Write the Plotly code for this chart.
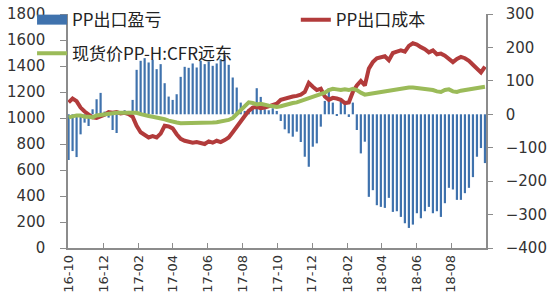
import pandas as pd
import plotly.graph_objects as go

# weekly observations, 2016-10 .. 2018-09
dates = pd.date_range("2016-10-01", periods=105, freq="7D")

profit = [  # PP出口盈亏 (right axis)
    -137, -110, -128, -60, -25, -35, 15, 45, 64, 8,
    -10, -47, -56, 8, 12, 10, 43, 133, 160, 168,
    155, 163, 135, 150, 93, 53, 43, 60, 112, 142,
    139, 152, 140, 160, 150, 158, 145, 152, 165, 177,
    148, 110, 80, 35, 10, 15, 25, 78, 52, 15,
    12, 18, 10, -20, -45, -57, -67, -52, -83, -127,
    -157, -97, -87, -37, 40, 78, 35, -5, 40, 30,
    -8, 35, -47, -117, -82, -247, -227, -272, -277, -280,
    -250, -292, -290, -307, -326, -340, -330, -296, -311, -290,
    -277, -296, -290, -307, -266, -220, -225, -256, -256, -236,
    -220, -188, -127, -101, -146,
]

cost = [  # PP出口成本 (left axis)
    1120, 1150, 1130, 1080, 1050, 1025, 1005, 1000, 1010, 1025,
    1045, 1040, 1045, 1035, 1040, 1030, 1010, 940, 890, 870,
    850, 860, 850, 880, 940, 935, 920, 875, 840, 825,
    815, 810, 815, 805, 800, 820, 810, 825, 815, 830,
    850, 890, 935, 980, 1015, 1055, 1080, 1085, 1075, 1080,
    1090, 1100, 1110, 1140, 1150, 1160, 1165, 1170, 1180, 1200,
    1270, 1240, 1215, 1225, 1165, 1140, 1155, 1150, 1140, 1115,
    1120, 1200, 1250, 1285, 1250, 1380, 1430, 1460, 1470, 1475,
    1445, 1500, 1510, 1520, 1510, 1555, 1575, 1565, 1545, 1530,
    1505, 1520, 1490, 1495, 1480, 1455, 1430, 1455, 1470, 1460,
    1440, 1410, 1375, 1350, 1395,
]

spot = [  # 现货价PP-H:CFR远东 (left axis)
    1005, 1015, 1020, 1020, 1010, 1010, 1005, 1020, 1025, 1030,
    1035, 1040, 1040, 1040, 1040, 1035, 1035, 1040, 1030, 1020,
    1015, 1010, 1005, 995, 990, 980, 970, 965, 960, 960,
    958, 960, 962, 960, 958, 962, 965, 968, 972, 978,
    985, 1000, 1030, 1060, 1100, 1120, 1115, 1105, 1110, 1100,
    1095, 1090, 1085, 1090, 1100, 1110, 1115, 1120, 1130, 1140,
    1150, 1160, 1170, 1180, 1195, 1215, 1225, 1220, 1215, 1220,
    1215, 1225, 1215, 1195, 1180, 1185, 1190, 1195, 1200, 1205,
    1210, 1215, 1225, 1228, 1230, 1235, 1235, 1232, 1230, 1228,
    1220, 1215, 1205, 1200, 1215, 1220, 1205, 1200, 1210, 1215,
    1220, 1230, 1235, 1240, 1240,
]

names = ["PP出口盈亏", "PP出口成本", "现货价PP-H:CFR远东"]
BLUE = "#3f72ad"
RED = "#b23b3b"
GREEN = "#9bbb59"

fig = go.Figure()
fig.add_trace(go.Bar(x=dates, y=profit, marker=dict(color=BLUE, line=dict(width=0)),
                     yaxis="y", showlegend=False, name=names[0]))
# legend proxy for the bar series (wide rectangle symbol)
fig.add_trace(go.Scatter(x=[None], y=[None], mode="lines", name=names[0],
                         line=dict(color=BLUE, width=10), yaxis="y", legend="legend"))
fig.add_trace(go.Scatter(x=dates, y=cost, mode="lines", name=names[1],
                         line=dict(color=RED, width=4), yaxis="y2", legend="legend2"))
fig.add_trace(go.Scatter(x=dates, y=spot, mode="lines", name=names[2],
                         line=dict(color=GREEN, width=4), yaxis="y2", legend="legend3"))

axis_col = "#8c8c8c"
tick_font = dict(family="DejaVu Sans", size=15, color="#333333")
leg_font = dict(family="Noto Sans CJK SC", size=17, color="#222222")

fig.update_layout(
    width=550, height=300,
    margin=dict(l=68, r=64, t=14, b=52, autoexpand=False),
    paper_bgcolor="white", plot_bgcolor="white",
    bargap=0.45,
    xaxis=dict(
        type="date", range=["2016-09-30", "2018-09-30 20:00"],
        tick0="2016-10-01", dtick="M2", tickformat="%y-%m", tickangle=-90,
        showgrid=False, zeroline=False, showline=True, linecolor=axis_col, linewidth=1.5,
        ticks="inside", ticklen=5, tickcolor=axis_col,
        tickfont=dict(family="DejaVu Sans", size=13, color="#333333"),
        automargin=False,
    ),
    yaxis=dict(
        side="right", range=[-400, 300], dtick=100,
        showgrid=False, zeroline=False, showline=True, linecolor=axis_col, linewidth=1.5,
        ticks="outside", ticklen=5, tickcolor=axis_col, tickfont=tick_font,
        ticklabelstandoff=10, automargin=False,
    ),
    yaxis2=dict(
        overlaying="y", side="left", range=[0, 1800], dtick=200,
        showgrid=False, zeroline=False, showline=True, linecolor=axis_col, linewidth=1.5,
        ticks="outside", ticklen=6, tickcolor=axis_col, tickfont=tick_font,
        ticklabelstandoff=12, automargin=False,
    ),
    legend=dict(x=-0.086, y=0.974, xanchor="left", yanchor="middle",
                bgcolor="rgba(0,0,0,0)", font=leg_font),
    legend2=dict(x=0.545, y=0.974, xanchor="left", yanchor="middle",
                 bgcolor="rgba(0,0,0,0)", font=leg_font),
    legend3=dict(x=-0.086, y=0.83, xanchor="left", yanchor="middle",
                 bgcolor="rgba(0,0,0,0)", font=leg_font),
)

fig.write_html("out.html")
